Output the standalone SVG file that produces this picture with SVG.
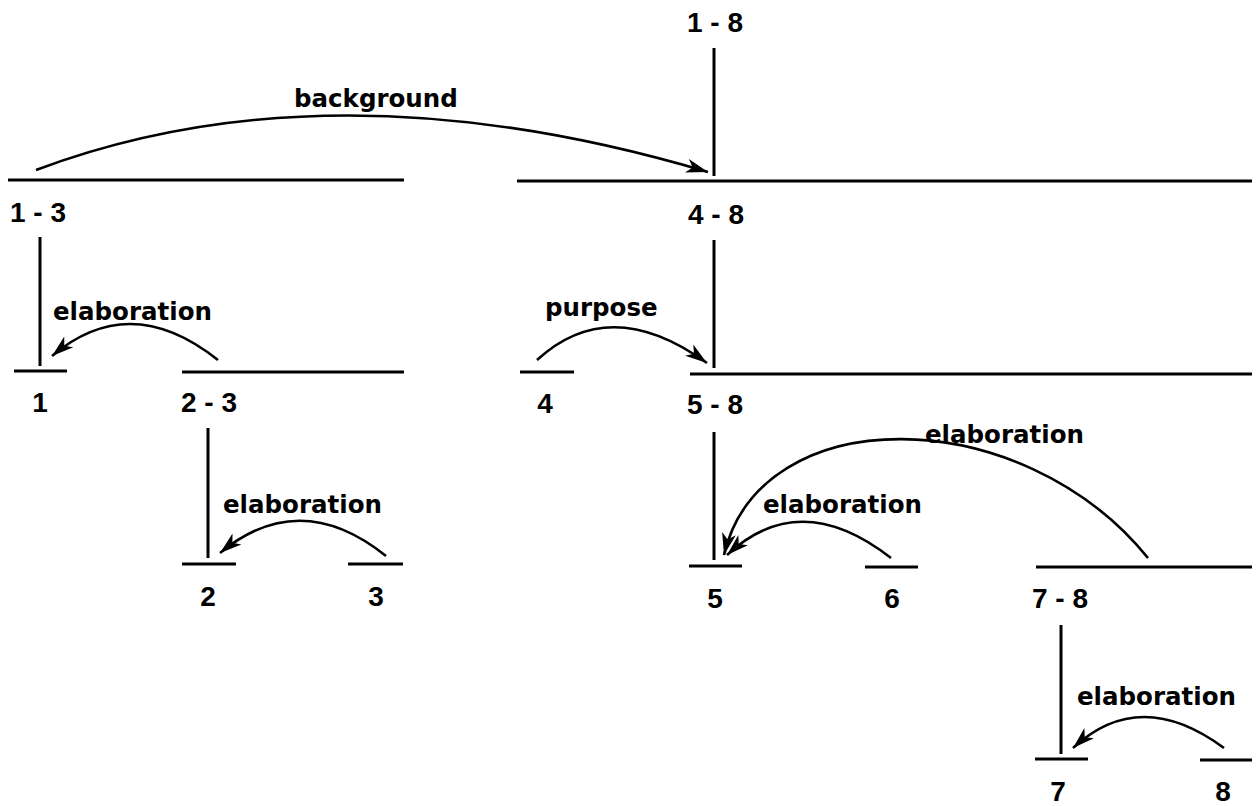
<svg xmlns="http://www.w3.org/2000/svg" width="1256" height="806" viewBox="0 0 1256 806">
<defs>
<style>
.ln{stroke:#000;stroke-width:3;fill:none;stroke-linecap:butt}
.arc{stroke:#000;stroke-width:2.6;fill:none;marker-end:url(#ah)}
text{font-weight:bold;fill:#000}
.num{font-family:"Liberation Sans",Arial,sans-serif;font-size:28px;text-anchor:middle}
.rel{font-family:"DejaVu Sans",Verdana,sans-serif;font-size:24.5px}
</style>
<marker id="ah" markerUnits="userSpaceOnUse" markerWidth="26" markerHeight="18" refX="22" refY="9" orient="auto">
<path d="M0,2 L22,9 L0,16 L6,9 Z" fill="#000"/>
</marker>
</defs>
<rect width="1256" height="806" fill="#fff"/>
<g id="n1-8"><text class="num" x="715" y="32">1 - 8</text><line class="ln" x1="714" y1="48" x2="714" y2="176"/></g>
<g id="n1-3"><line class="ln" x1="8" y1="180" x2="404" y2="180"/><text class="num" x="38" y="222">1 - 3</text><line class="ln" x1="40" y1="237" x2="40" y2="366"/></g>
<g id="n4-8"><line class="ln" x1="517" y1="181" x2="1252" y2="181"/><text class="num" x="716" y="224">4 - 8</text><line class="ln" x1="714" y1="240" x2="714" y2="368"/></g>
<g id="n1"><line class="ln" x1="14" y1="371" x2="67" y2="371"/><text class="num" x="40" y="412">1</text></g>
<g id="n2-3"><line class="ln" x1="182" y1="372" x2="404" y2="372"/><text class="num" x="209" y="412">2 - 3</text><line class="ln" x1="208" y1="428" x2="208" y2="558"/></g>
<g id="n2"><line class="ln" x1="182" y1="564" x2="236" y2="564"/><text class="num" x="208" y="606">2</text></g>
<g id="n3"><line class="ln" x1="348" y1="564" x2="403" y2="564"/><text class="num" x="376" y="606">3</text></g>
<g id="n4"><line class="ln" x1="520" y1="372" x2="574" y2="372"/><text class="num" x="545" y="413">4</text></g>
<g id="n5-8"><line class="ln" x1="690" y1="374" x2="1252" y2="374"/><text class="num" x="715" y="414">5 - 8</text><line class="ln" x1="714" y1="432" x2="714" y2="560"/></g>
<g id="n5"><line class="ln" x1="689" y1="566" x2="742" y2="566"/><text class="num" x="715" y="608">5</text></g>
<g id="n6"><line class="ln" x1="865" y1="567" x2="918" y2="567"/><text class="num" x="892" y="608">6</text></g>
<g id="n7-8"><line class="ln" x1="1036" y1="567" x2="1252" y2="567"/><text class="num" x="1060" y="608">7 - 8</text><line class="ln" x1="1061" y1="625" x2="1061" y2="754"/></g>
<g id="n7"><line class="ln" x1="1035" y1="759" x2="1088" y2="759"/><text class="num" x="1058" y="801">7</text></g>
<g id="n8"><line class="ln" x1="1200" y1="760" x2="1252" y2="760"/><text class="num" x="1223" y="801">8</text></g>
<g id="connectors">
<path class="arc" d="M36,170 Q330,60 708,172"/>
<text class="rel" x="294" y="107">background</text>
<path class="arc" d="M218,360 Q130,290 52,356"/>
<text class="rel" x="53" y="320">elaboration</text>
<path class="arc" d="M386,556 Q300,487 220,553"/>
<text class="rel" x="223" y="513">elaboration</text>
<path class="arc" d="M537,360 Q610,293 707,363"/>
<text class="rel" x="545" y="316">purpose</text>
<path class="arc" d="M1148,558 C1020,400 760,400 724,555"/>
<text class="rel" x="925" y="443">elaboration</text>
<path class="arc" d="M891,558 Q800,487 727,555"/>
<text class="rel" x="763" y="513">elaboration</text>
<path class="arc" d="M1224,748 Q1140,686 1073,748"/>
<text class="rel" x="1077" y="705">elaboration</text>
</g>
</svg>
